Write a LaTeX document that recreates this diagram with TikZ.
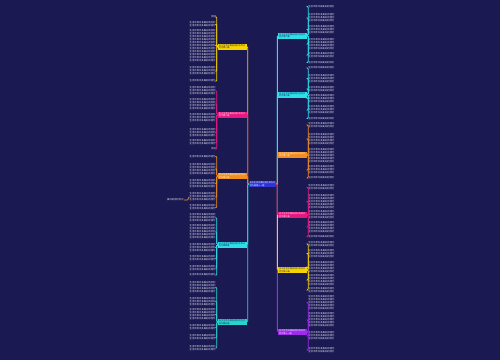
\documentclass[tikz,border=0pt]{standalone}
\usepackage{fontspec}
\newfontfamily\cjk{Noto Sans CJK SC}
\XeTeXlinebreaklocale "zh"
\XeTeXlinebreakskip=0pt plus 0.5pt

\definecolor{bg}{RGB}{27,25,82}
\definecolor{hub}{RGB}{47,52,214}
\definecolor{yel}{RGB}{246,212,0}
\definecolor{pnk}{RGB}{232,24,128}
\definecolor{org}{RGB}{242,142,30}
\definecolor{cyn}{RGB}{44,224,232}
\definecolor{tea}{RGB}{38,214,206}
\definecolor{prp}{RGB}{158,42,236}
\definecolor{txt}{RGB}{236,236,248}

\newcommand\filler[1]{\foreach\k in {1,...,#1}{生活中有许多美好的回忆}}

\begin{document}
\begin{tikzpicture}[x=1pt,y=-1pt,line width=0.7pt,
    main node/.style={minimum width=28.5pt,minimum height=6pt,inner sep=0.6pt,text width=27pt,align=left,font=\cjk\fontsize{2.1}{2.6}\selectfont},
    left node/.style={main node,anchor=east},
    right node/.style={main node,anchor=west},
    leaf node/.style={inner sep=0pt,text width=26.5pt,text=txt,font=\cjk\fontsize{2.35}{3}\selectfont},
    left leaf/.style={leaf node,anchor=east},
    right leaf/.style={leaf node,anchor=west},
    short leaf/.style={inner sep=0pt,text=txt,anchor=east,font=\cjk\fontsize{2.35}{3}\selectfont},
    to left/.style={rounded corners=1pt,to path={-- ++(-1,0) |- (\tikztotarget)}},
    to right/.style={rounded corners=1pt,to path={-- ++(1,0) |- (\tikztotarget)}}]

    \useasboundingbox (0,0) rectangle (500,360);
    \fill[bg] (0,0) rectangle (500,360);

    % centre
    \node[main node,fill=hub,text=white,minimum width=27pt,text width=25.5pt,minimum height=6.5pt] (0) at (262.5,184) {关于生活中美好回忆的作文范文通用十一篇};

    % left branches
    \node[left node,fill=yel,text=bg] (1) at (247,46.5) {关于生活中美好回忆的作文范文第一篇};
    \node[left node,fill=pnk,text=white] (2) at (247,114.5) {关于生活中美好回忆的作文范文第二篇};
    \node[left node,fill=org,text=white] (3) at (247,176) {关于生活中美好回忆的作文范文第三篇};
    \node[left node,fill=cyn,text=bg] (4) at (247,244.5) {关于生活中美好回忆的作文范文第四篇};
    \node[left node,fill=tea,text=bg] (5) at (247,322) {关于生活中美好回忆的作文范文第五篇};

    % right branches
    \node[right node,fill=cyn,text=bg] (6) at (278,35.5) {关于生活中美好回忆的作文范文第六篇};
    \node[right node,fill=cyn,text=bg] (7) at (278,94.5) {关于生活中美好回忆的作文范文第七篇};
    \node[right node,fill=org,text=white] (8) at (278,154.5) {关于生活中美好回忆的作文范文第八篇};
    \node[right node,fill=pnk,text=white] (9) at (278,215) {关于生活中美好回忆的作文范文第九篇};
    \node[right node,fill=yel,text=bg] (10) at (278,270) {关于生活中美好回忆的作文范文第十篇};
    \node[right node,fill=prp,text=white] (11) at (278,332) {关于生活中美好回忆的作文范文第十一篇};

    % left leaves
    \node[short leaf] (1a) at (216.5,17) {回忆};
    \node[left leaf] (1b) at (216.5,24.5) {\filler{2}};
    \node[left leaf] (1c) at (216.5,45.5) {\filler{11}};
    \node[left leaf] (1d) at (216.5,71) {\filler{3}};
    \node[left leaf] (1e) at (216.5,81) {\filler{1}};

    \node[left leaf] (2a) at (216.5,91) {\filler{3}};
    \node[left leaf] (2b) at (216.5,104) {\filler{4}};
    \node[left leaf] (2c) at (216.5,118) {\filler{3}};
    \node[left leaf] (2d) at (216.5,132.5) {\filler{3}};
    \node[left leaf] (2e) at (216.5,142.5) {\filler{2}};
    \node[short leaf] (2f) at (216.5,149) {回忆};

    \node[left leaf] (3a) at (216.5,156.5) {\filler{1}};
    \node[left leaf] (3b) at (216.5,169) {\filler{4}};
    \node[left leaf] (3c) at (216.5,183.5) {\filler{3}};
    \node[left leaf] (3d) at (216.5,197) {\filler{3}};
    \node[left leaf] (3e) at (216.5,207.5) {\filler{2}};
    \node[short leaf] (3f) at (184,200) {美好的回忆时光};

    \node[left leaf] (4a) at (216.5,218) {\filler{3}};
    \node[left leaf] (4b) at (216.5,232) {\filler{5}};
    \node[left leaf] (4c) at (216.5,247.5) {\filler{3}};
    \node[left leaf] (4d) at (216.5,258.5) {\filler{2}};
    \node[left leaf] (4e) at (216.5,268) {\filler{2}};
    \node[left leaf] (4f) at (216.5,275) {\filler{1}};

    \node[left leaf] (5a) at (216.5,287.5) {\filler{4}};
    \node[left leaf] (5b) at (216.5,301.5) {\filler{3}};
    \node[left leaf] (5c) at (216.5,314.5) {\filler{4}};
    \node[left leaf] (5d) at (216.5,327.5) {\filler{2}};
    \node[left leaf] (5e) at (216.5,337.5) {\filler{2}};
    \node[left leaf] (5f) at (216.5,348) {\filler{2}};

    % right leaves
    \node[right leaf] (6a) at (308,6.5) {\filler{1}};
    \node[right leaf] (6b) at (308,18) {\filler{3}};
    \node[right leaf] (6c) at (308,29.5) {\filler{3}};
    \node[right leaf] (6d) at (308,44) {\filler{4}};
    \node[right leaf] (6e) at (308,55) {\filler{2}};
    \node[right leaf] (6f) at (308,62.5) {\filler{1}};

    \node[right leaf] (7a) at (308,68) {\filler{1}};
    \node[right leaf] (7b) at (308,78.5) {\filler{3}};
    \node[right leaf] (7c) at (308,89) {\filler{2}};
    \node[right leaf] (7d) at (308,98.5) {\filler{3}};
    \node[right leaf] (7e) at (308,110) {\filler{3}};
    \node[right leaf] (7f) at (308,118.5) {\filler{1}};

    \node[right leaf] (8a) at (308,125) {\filler{2}};
    \node[right leaf] (8b) at (308,139) {\filler{4}};
    \node[right leaf] (8c) at (308,155.5) {\filler{5}};
    \node[right leaf] (8d) at (308,170) {\filler{3}};
    \node[right leaf] (8e) at (308,178) {\filler{1}};

    \node[right leaf] (9a) at (308,187.5) {\filler{2}};
    \node[right leaf] (9b) at (308,201.5) {\filler{5}};
    \node[right leaf] (9c) at (308,214.5) {\filler{3}};
    \node[right leaf] (9d) at (308,227) {\filler{4}};
    \node[right leaf] (9e) at (308,236.5) {\filler{1}};

    \node[right leaf] (10a) at (308,244) {\filler{2}};
    \node[right leaf] (10b) at (308,253.5) {\filler{3}};
    \node[right leaf] (10c) at (308,267) {\filler{4}};
    \node[right leaf] (10d) at (308,280) {\filler{4}};
    \node[right leaf] (10e) at (308,290) {\filler{2}};

    \node[right leaf] (11a) at (308,302.5) {\filler{5}};
    \node[right leaf] (11b) at (308,320) {\filler{5}};
    \node[right leaf] (11c) at (308,336) {\filler{3}};
    \node[right leaf] (11d) at (308,350) {\filler{2}};

    % trunk
    \path[line width=0.8pt]
        (0.west) edge[to left,draw=yel] (1.east)
        (0.west) edge[to left,draw=pnk] (2.east)
        (0.west) edge[to left,draw=org] (3.east)
        (0.west) edge[to left,draw=tea] (5.east)
        (0.west) edge[to left,draw=cyn] (4.east)
        (0.east) edge[to right,draw=cyn] (6.west)
        (0.east) edge[to right,draw=cyn] (7.west)
        (0.east) edge[to right,draw=org] (8.west)
        (0.east) edge[to right,draw=prp] (11.west)
        (0.east) edge[to right,draw=yel] (10.west)
        (0.east) edge[to right,draw=pnk] (9.west)
    ;

    % brackets
    \path[draw=yel]
        (1.west) edge[to left] (1a.east) edge[to left] (1b.east) edge[to left] (1c.east)
        (1.west) edge[to left] (1d.east) edge[to left] (1e.east);
    \path[draw=pnk]
        (2.west) edge[to left] (2a.east) edge[to left] (2b.east) edge[to left] (2c.east)
        (2.west) edge[to left] (2d.east) edge[to left] (2e.east) edge[to left] (2f.east);
    \path[draw=org]
        (3.west) edge[to left] (3a.east) edge[to left] (3b.east) edge[to left] (3c.east)
        (3.west) edge[to left] (3d.east) edge[to left] (3e.east)
        (3d.west) edge[to left] (3f.east);
    \path[draw=cyn]
        (4.west) edge[to left] (4a.east) edge[to left] (4b.east) edge[to left] (4c.east)
        (4.west) edge[to left] (4d.east) edge[to left] (4e.east) edge[to left] (4f.east);
    \path[draw=tea]
        (5.west) edge[to left] (5a.east) edge[to left] (5b.east) edge[to left] (5c.east)
        (5.west) edge[to left] (5d.east) edge[to left] (5e.east) edge[to left] (5f.east);

    \path[draw=cyn]
        (6.east) edge[to right] (6a.west) edge[to right] (6b.west) edge[to right] (6c.west)
        (6.east) edge[to right] (6d.west) edge[to right] (6e.west) edge[to right] (6f.west);
    \path[draw=cyn]
        (7.east) edge[to right] (7a.west) edge[to right] (7b.west) edge[to right] (7c.west)
        (7.east) edge[to right] (7d.west) edge[to right] (7e.west) edge[to right] (7f.west);
    \path[draw=org]
        (8.east) edge[to right] (8a.west) edge[to right] (8b.west) edge[to right] (8c.west)
        (8.east) edge[to right] (8d.west) edge[to right] (8e.west);
    \path[draw=pnk]
        (9.east) edge[to right] (9a.west) edge[to right] (9b.west) edge[to right] (9c.west)
        (9.east) edge[to right] (9d.west) edge[to right] (9e.west);
    \path[draw=yel]
        (10.east) edge[to right] (10a.west) edge[to right] (10b.west) edge[to right] (10c.west)
        (10.east) edge[to right] (10d.west) edge[to right] (10e.west);
    \path[draw=prp]
        (11.east) edge[to right] (11a.west) edge[to right] (11b.west) edge[to right] (11c.west)
        (11.east) edge[to right] (11d.west);
\end{tikzpicture}
\end{document}
